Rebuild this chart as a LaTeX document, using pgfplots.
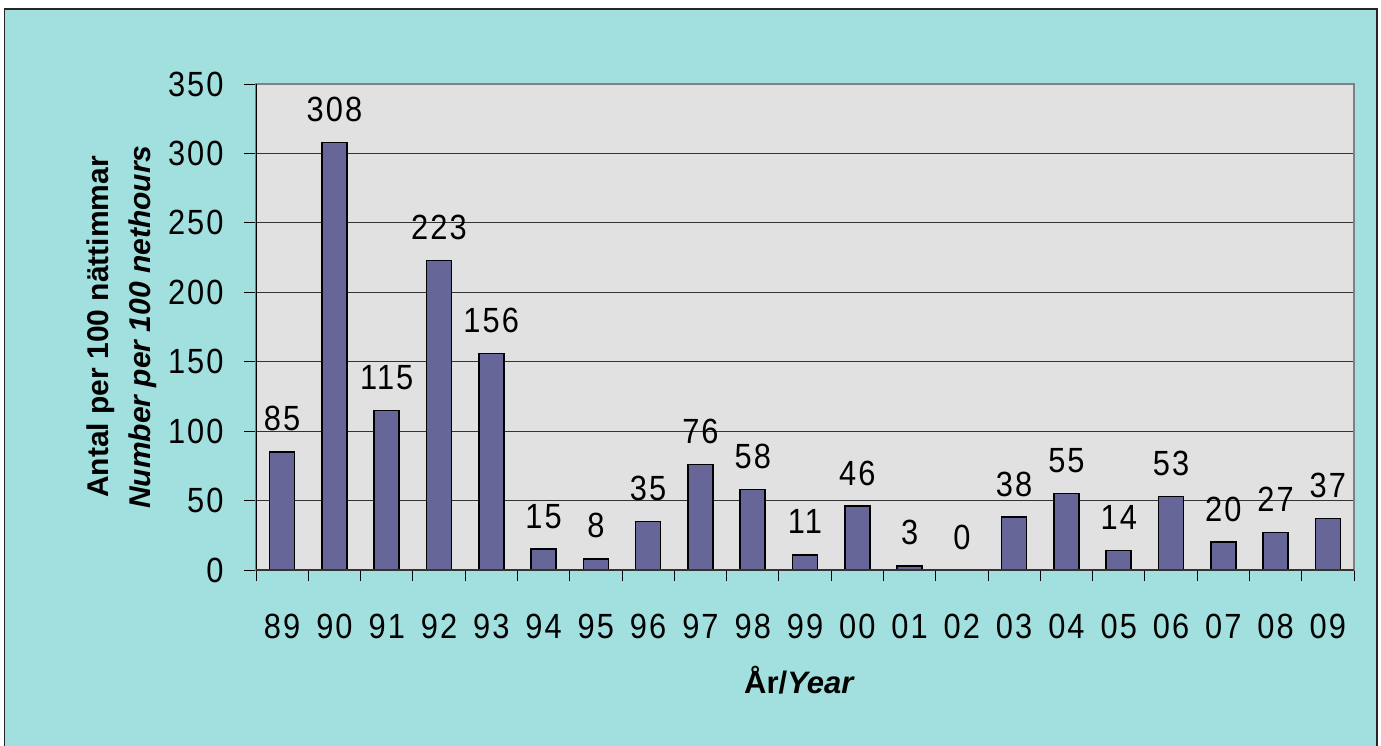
\documentclass[border=0pt]{standalone}
\usepackage{pgfplots}
\pgfplotsset{compat=1.18}
\usepackage{fontspec}
\setmainfont{Liberation Sans}
\newfontfamily\numfont[LetterSpace=6,FakeStretch=0.88]{Liberation Sans}
\definecolor{bgc}{HTML}{A2DFDF}
\definecolor{plotbg}{HTML}{E1E1E1}
\definecolor{barc}{HTML}{666699}
\definecolor{gridc}{HTML}{333333}
\begin{document}
\begin{tikzpicture}[x=1pt,y=1pt]
\useasboundingbox (0,0) rectangle (690.5,372.5);
\fill[white] (0,0) rectangle (690.5,372.5);
\filldraw[fill=bgc, draw=black!85, line width=0.8pt] (2.2,-2) rectangle (688.5,368);
\begin{axis}[
  at={(128pt,87.5pt)}, anchor=south west, scale only axis,
  width=549pt, height=243pt,
  /pgf/number format/assume math mode=true,
  ymin=0, ymax=350, ytick={0,50,...,350},
  xmin=-0.5, xmax=20.5,
  xtick={0,...,20},
  xticklabels={89,90,91,92,93,94,95,96,97,98,99,00,01,02,03,04,05,06,07,08,09},
  minor xtick={-0.5,0.5,...,20.5},
  xtick pos=lower, ytick pos=left,
  tick align=outside,
  major x tick style={draw=none},
  major tick length=6pt, minor tick length=5.5pt,
  every tick/.style={black, line width=0.5pt},
  ymajorgrids, grid style={gridc, line width=0.5pt},
  axis background/.style={fill=plotbg},
  axis line style={draw=gray, line width=1pt},
  tick label style={font=\numfont\fontsize{17.5}{20}\selectfont, inner sep=0pt},
  xticklabel style={anchor=base, yshift=-28pt},
  yticklabel style={anchor=east, xshift=-10pt},
  ybar, bar width=12.5pt,
  nodes near coords,
  every node near coord/.append style={font=\numfont\fontsize{17.5}{20}\selectfont, anchor=base, inner sep=0pt, yshift=10.5pt, black},
  xlabel={\textbf{År/\textit{Year}}},
  xlabel style={font=\fontsize{15.5}{18}\selectfont, at={(axis description cs:0.495,-0.226)}, anchor=center, inner sep=0pt},
  ylabel={\textbf{Antal per 100 nättimmar}\\\textbf{\textit{Number per 100 nethours}}},
  ylabel style={font=\fontsize{15}{21}\selectfont, align=center, at={(axis description cs:-0.090,0.5)}, anchor=south, inner sep=0pt},
]
\addplot[fill=barc, draw=black, line width=0.8pt] coordinates {
(0,85) (1,308) (2,115) (3,223) (4,156) (5,15) (6,8) (7,35) (8,76) (9,58)
(10,11) (11,46) (12,3) (13,0) (14,38) (15,55) (16,14) (17,53) (18,20) (19,27) (20,37)};
\draw[black, line width=0.7pt] (rel axis cs:0,0) -- (rel axis cs:0,1);
\draw[black!80, line width=0.8pt] (rel axis cs:0,0) -- (rel axis cs:1,0);
\end{axis}
\end{tikzpicture}
\end{document}
